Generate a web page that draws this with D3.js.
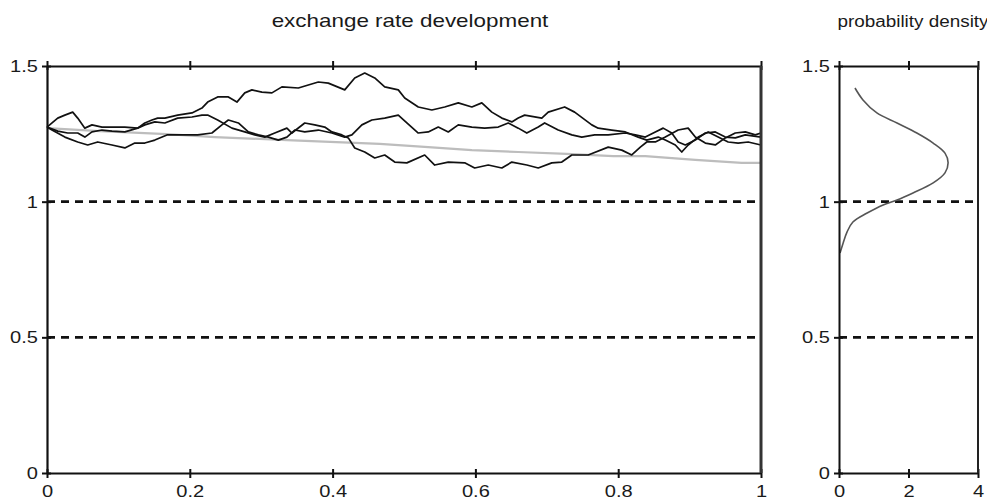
<!DOCTYPE html>
<html><head><meta charset="utf-8">
<script src="https://cdn.jsdelivr.net/npm/d3@7"></script>
<style>body{margin:0;background:#fff}svg text{font-family:"Liberation Sans",Arial,sans-serif;fill:#1a1a1a}</style>
</head><body><svg id="c" width="987" height="502"></svg>
<script>
// ---------- data ----------
const xTicks=[0,0.2,0.4,0.6,0.8,1];
const xTickLabels=["0","0.2","0.4","0.6","0.8","1"];
const yTicks=[0,0.5,1,1.5];
const yTickLabels=["0","0.5","1","1.5"];
const densTicks=[0,2,4];
const densTickLabels=["0","2","4"];
const refLevels=[0.5,1];
const titles=["exchange rate development","probability density"];

// simulated exchange-rate paths: [time, rate]
const pathA=[[0,1.275],[0.015,1.308],[0.025,1.319],[0.036,1.330],[0.043,1.308],[0.053,1.271],[0.063,1.283],[0.077,1.275],[0.091,1.275],[0.109,1.275],[0.127,1.271],[0.137,1.290],[0.147,1.301],[0.155,1.308],[0.165,1.308],[0.183,1.319],[0.203,1.327],[0.217,1.345],[0.225,1.367],[0.239,1.386],[0.254,1.386],[0.266,1.367],[0.277,1.401],[0.287,1.412],[0.301,1.404],[0.315,1.401],[0.329,1.423],[0.352,1.419],[0.380,1.441],[0.394,1.437],[0.417,1.412],[0.431,1.456],[0.445,1.474],[0.459,1.456],[0.473,1.423],[0.492,1.412],[0.501,1.382],[0.520,1.349],[0.539,1.338],[0.557,1.349],[0.576,1.364],[0.595,1.349],[0.609,1.364],[0.623,1.330],[0.637,1.308],[0.651,1.294],[0.660,1.308],[0.669,1.319],[0.693,1.308],[0.702,1.330],[0.725,1.349],[0.739,1.330],[0.763,1.283],[0.772,1.271],[0.791,1.264],[0.810,1.257],[0.828,1.238],[0.840,1.227],[0.856,1.238],[0.866,1.227],[0.880,1.209],[0.889,1.183],[0.898,1.209],[0.912,1.238],[0.926,1.257],[0.940,1.238],[0.954,1.220],[0.968,1.216],[0.982,1.220],[1.000,1.209]];
const pathB=[[0,1.275],[0.015,1.260],[0.029,1.253],[0.043,1.253],[0.053,1.238],[0.063,1.257],[0.077,1.264],[0.091,1.260],[0.109,1.257],[0.127,1.271],[0.137,1.283],[0.151,1.294],[0.165,1.290],[0.183,1.308],[0.203,1.312],[0.217,1.319],[0.225,1.319],[0.239,1.301],[0.259,1.271],[0.277,1.257],[0.291,1.246],[0.305,1.238],[0.319,1.253],[0.336,1.271],[0.343,1.253],[0.361,1.290],[0.375,1.283],[0.389,1.275],[0.399,1.257],[0.413,1.246],[0.422,1.235],[0.431,1.198],[0.445,1.183],[0.459,1.161],[0.473,1.172],[0.487,1.146],[0.504,1.143],[0.529,1.172],[0.543,1.135],[0.562,1.146],[0.585,1.143],[0.599,1.124],[0.618,1.135],[0.637,1.124],[0.651,1.146],[0.672,1.135],[0.688,1.124],[0.707,1.143],[0.721,1.146],[0.735,1.172],[0.758,1.172],[0.786,1.201],[0.805,1.190],[0.819,1.172],[0.831,1.201],[0.840,1.220],[0.852,1.220],[0.866,1.238],[0.884,1.264],[0.898,1.271],[0.908,1.238],[0.922,1.216],[0.936,1.209],[0.950,1.235],[0.964,1.253],[0.978,1.257],[0.992,1.246],[1.000,1.253]];
const pathC=[[0,1.275],[0.007,1.264],[0.025,1.238],[0.043,1.220],[0.057,1.209],[0.071,1.220],[0.091,1.209],[0.109,1.198],[0.123,1.216],[0.137,1.216],[0.151,1.227],[0.168,1.246],[0.193,1.246],[0.211,1.246],[0.231,1.253],[0.245,1.283],[0.254,1.301],[0.268,1.290],[0.282,1.257],[0.296,1.246],[0.310,1.238],[0.324,1.227],[0.336,1.238],[0.347,1.264],[0.361,1.257],[0.380,1.264],[0.399,1.253],[0.417,1.238],[0.427,1.246],[0.441,1.283],[0.455,1.301],[0.473,1.308],[0.492,1.319],[0.504,1.290],[0.520,1.253],[0.534,1.257],[0.548,1.275],[0.562,1.257],[0.576,1.283],[0.595,1.275],[0.613,1.271],[0.632,1.275],[0.646,1.290],[0.660,1.271],[0.672,1.253],[0.688,1.275],[0.697,1.290],[0.716,1.264],[0.735,1.246],[0.749,1.238],[0.767,1.246],[0.786,1.246],[0.810,1.253],[0.824,1.246],[0.838,1.238],[0.852,1.257],[0.863,1.271],[0.875,1.253],[0.884,1.220],[0.894,1.209],[0.908,1.227],[0.922,1.253],[0.936,1.257],[0.950,1.238],[0.964,1.235],[0.978,1.246],[1.000,1.238]];
// expected (drift) path, grey
const drift=[[0,1.271],[0.074,1.260],[0.168,1.249],[0.235,1.238],[0.336,1.227],[0.466,1.213],[0.534,1.201],[0.595,1.190],[0.660,1.183],[0.728,1.176],[0.793,1.168],[0.838,1.168],[0.908,1.154],[0.973,1.143],[1.000,1.143]];
// probability density at t=1: [rate, density]
const density=[[1.419,0.46],[1.375,0.69],[1.327,1.09],[1.290,1.67],[1.253,2.24],[1.216,2.71],[1.179,3.05],[1.143,3.14],[1.106,3.05],[1.069,2.71],[1.032,2.13],[1.006,1.67],[0.988,1.27],[0.958,0.81],[0.925,0.40],[0.888,0.23],[0.848,0.12],[0.811,0.03]];

// ---------- drawing ----------
const svg=d3.select("#c");
const FS=17, STRETCH=1.18;
const x=d3.scaleLinear().domain([0,1]).range([47,761]);
const y=d3.scaleLinear().domain([0,1.5]).range([473,66]);
const xd=d3.scaleLinear().domain([0,4]).range([839,978]);

function stretch(sel){
  sel.each(function(){
    const L=this.getComputedTextLength();
    this.setAttribute("textLength",L*STRETCH);
    this.setAttribute("lengthAdjust","spacingAndGlyphs");
  });
}
function styleAxis(g,w,col){
  g.select(".domain").attr("stroke",col||"#111").attr("stroke-width",w);
  g.selectAll(".tick line").attr("stroke",col||"#111").attr("stroke-width",2);
  g.selectAll(".tick text").attr("font-size",FS).attr("fill","#1a1a1a").style("font-family",'"Liberation Sans",Arial,sans-serif');
}

// reference dashed lines
[[x,0,1],[xd,0,4]].forEach(([sc,a,b])=>{
  svg.append("g").selectAll("line").data(refLevels).join("line")
    .attr("x1",sc(a)).attr("x2",sc(b)).attr("y1",d=>y(d)).attr("y2",d=>y(d))
    .attr("stroke","#111").attr("stroke-width",2.6).attr("stroke-dasharray","8,6");
});

const line=d3.line().x(d=>x(d[0])).y(d=>y(d[1]));
svg.append("path").datum(drift).attr("d",line).attr("fill","none").attr("stroke","#bdbdbd").attr("stroke-width",2.2);
svg.append("g").selectAll("path").data([pathC,pathB,pathA]).join("path")
  .attr("d",line).attr("fill","none").attr("stroke","#111").attr("stroke-width",1.7).attr("stroke-linejoin","round");

const dline=d3.line().x(d=>xd(d[1])).y(d=>y(d[0])).curve(d3.curveCatmullRom);
svg.append("path").datum(density).attr("d",dline).attr("fill","none").attr("stroke","#555").attr("stroke-width",1.6);

// ---- left panel axes ----
let g;
g=svg.append("g").attr("transform","translate(47,0)")
  .call(d3.axisLeft(y).tickValues(yTicks).tickFormat((d,i)=>yTickLabels[i]).tickSizeInner(5).tickSizeOuter(0).tickPadding(4));
styleAxis(g,2.2);
g=svg.append("g").attr("transform","translate(47,0)")
  .call(d3.axisRight(y).tickValues(yTicks).tickFormat("").tickSizeInner(4).tickSizeOuter(0));
styleAxis(g,0);
g=svg.append("g").attr("transform","translate(0,473)")
  .call(d3.axisBottom(x).tickValues(xTicks).tickFormat((d,i)=>xTickLabels[i]).tickSizeInner(5).tickSizeOuter(0).tickPadding(7));
styleAxis(g,2.2);
g=svg.append("g").attr("transform","translate(0,473)")
  .call(d3.axisTop(x).tickValues(xTicks).tickFormat("").tickSizeInner(4).tickSizeOuter(0));
styleAxis(g,0);
g=svg.append("g").attr("transform","translate(0,66)")
  .call(d3.axisTop(x).tickValues(xTicks).tickFormat("").tickSizeInner(5).tickSizeOuter(0));
styleAxis(g,2.2);
g=svg.append("g").attr("transform","translate(0,66)")
  .call(d3.axisBottom(x).tickValues(xTicks).tickFormat("").tickSizeInner(4).tickSizeOuter(0));
styleAxis(g,0);
svg.append("line").attr("x1",x(1)).attr("x2",x(1)).attr("y1",y(1.5)).attr("y2",y(0))
  .attr("stroke","#333").attr("stroke-width",3);

// ---- right panel axes ----
g=svg.append("g").attr("transform","translate(839,0)")
  .call(d3.axisLeft(y).tickValues(yTicks).tickFormat((d,i)=>yTickLabels[i]).tickSizeInner(5).tickSizeOuter(0).tickPadding(4));
styleAxis(g,2);
g=svg.append("g").attr("transform","translate(839,0)")
  .call(d3.axisRight(y).tickValues(yTicks).tickFormat("").tickSizeInner(4).tickSizeOuter(0));
styleAxis(g,0);
g=svg.append("g").attr("transform","translate(0,473)")
  .call(d3.axisBottom(xd).tickValues(densTicks).tickFormat((d,i)=>densTickLabels[i]).tickSizeInner(5).tickSizeOuter(0).tickPadding(7));
styleAxis(g,2.2);
g=svg.append("g").attr("transform","translate(0,473)")
  .call(d3.axisTop(xd).tickValues(densTicks).tickFormat("").tickSizeInner(4).tickSizeOuter(0));
styleAxis(g,0);
g=svg.append("g").attr("transform","translate(0,66)")
  .call(d3.axisTop(xd).tickValues(densTicks).tickFormat("").tickSizeInner(5).tickSizeOuter(0));
styleAxis(g,2.2);
g=svg.append("g").attr("transform","translate(0,66)")
  .call(d3.axisBottom(xd).tickValues(densTicks).tickFormat("").tickSizeInner(4).tickSizeOuter(0));
styleAxis(g,0);
svg.append("line").attr("x1",xd(4)).attr("x2",xd(4)).attr("y1",y(1.5)).attr("y2",y(0))
  .attr("stroke","#222").attr("stroke-width",2);

// titles
svg.append("text").attr("x",410).attr("y",27).attr("text-anchor","middle").attr("font-size",19).text(titles[0]);
svg.append("text").attr("x",913).attr("y",27).attr("text-anchor","middle").attr("font-size",16).text(titles[1]);

stretch(svg.selectAll("text"));
</script></body></html>
